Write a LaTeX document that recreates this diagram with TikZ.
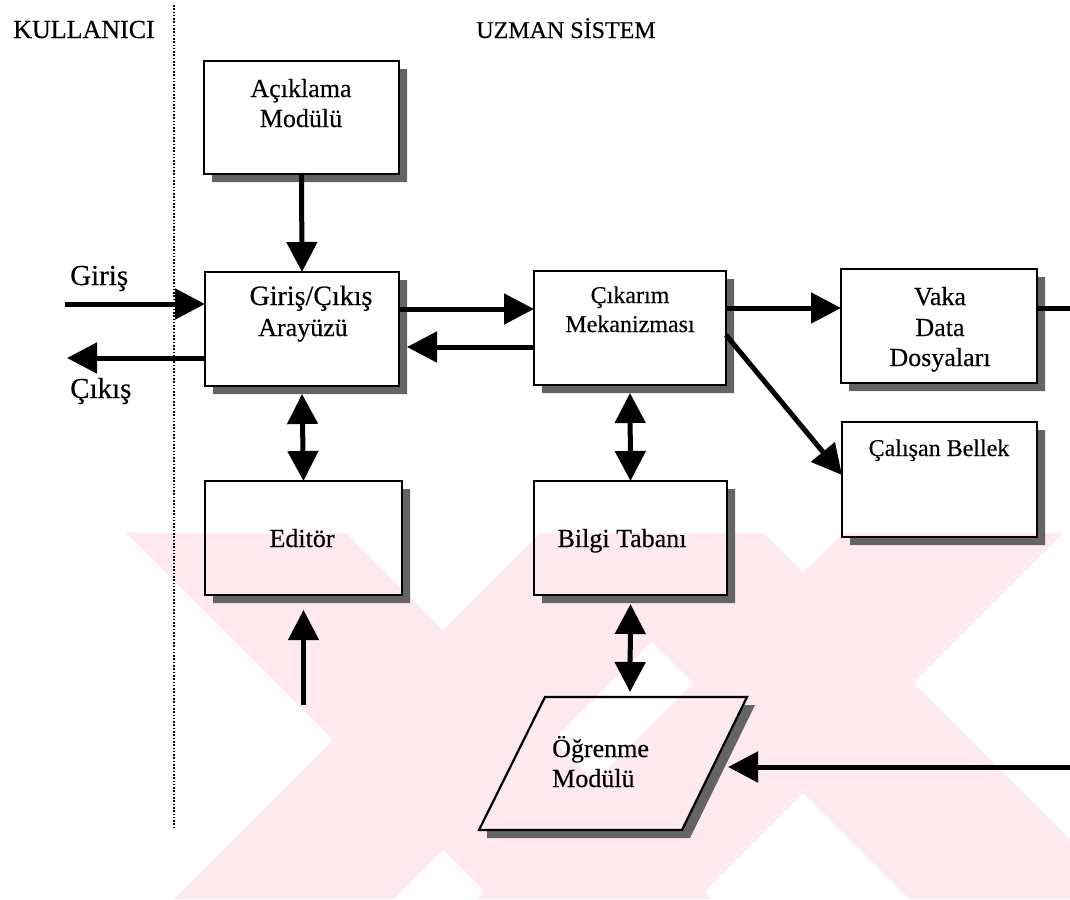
\documentclass[tikz,border=0pt]{standalone}
\usepackage{fontspec}
\setmainfont{Liberation Serif}[FakeBold=0.35]
\usetikzlibrary{arrows.meta,calc}
\definecolor{wmpink}{RGB}{253,233,238}
\definecolor{shadowgray}{RGB}{100,100,100}
\pgfdeclarelayer{paper}
\pgfdeclarelayer{back}
\pgfsetlayers{paper,back,main}
\tikzset{
  box/.style={draw=black, line width=2.8pt, rectangle, inner sep=0pt, outer sep=0pt},
  txt/.style={anchor=base, inner sep=0pt, font=\fontsize{26}{30}\selectfont},
  head/.style={anchor=base, inner sep=0pt, font=\fontsize{26}{30}\selectfont},
  side/.style={anchor=base west, inner sep=0pt, font=\fontsize{29}{34}\selectfont},
  arr/.style={line width=5pt, -{Triangle[width=30pt,length=30pt]}},
  darr/.style={line width=5pt, {Triangle[width=30pt,length=30pt]}-{Triangle[width=30pt,length=30pt]}},
  plainline/.style={line width=5pt},
  sepline/.style={line width=2.2pt, dash pattern=on 1.6pt off 1.7pt},
  emblem/.style={fill=wmpink, draw=none},
}
% L-shaped drop shadow to the lower right of a box node
\newcommand\boxshadow[1]{%
  \fill[shadowgray] ([shift={(0,8)}]#1.north east) -- ([shift={(8,8)}]#1.north east)
    -- ([shift={(8,8)}]#1.south east) -- ([shift={(8,8)}]#1.south west)
    -- ([shift={(8,0)}]#1.south west) -- (#1.south east) -- cycle;}
% one diagonal cross of the emblem: centre x, centre y, half width
\newcommand\emblemcross[3]{%
  \fill[emblem] ({#1+533-#2-#3},533) -- ({#1+533-#2+#3},533)
     -- ({#1+899-#2+#3},899) -- ({#1+899-#2-#3},899) -- cycle;
  \fill[emblem] ({#1-533+#2-#3},533) -- ({#1-533+#2+#3},533)
     -- ({#1-899+#2+#3},899) -- ({#1-899+#2-#3},899) -- cycle;}
\begin{document}
\begin{tikzpicture}[x=1pt,y=-1pt]
\useasboundingbox (0,0) rectangle (1070,899);
\begin{pgfonlayer}{paper}
\fill[white] (0,0) rectangle (1070,899);
\end{pgfonlayer}

% faint emblem in the lower half
\begin{pgfonlayer}{back}
\begin{scope}
\clip (118,533) rectangle (1070,899);
\emblemcross{443}{740}{110}
\emblemcross{803}{683}{110}
\end{scope}
\end{pgfonlayer}

% headings and separator
\node[head] (kullanici) at (84,38) {KULLANICI};
\node[head, font=\fontsize{24}{30}\selectfont] (uzman) at (566,38) {UZMAN SİSTEM};
\coordinate (septop) at (174,5);
\coordinate (sepbot) at (174,828);
\draw[sepline] (septop) -- (sepbot);

% boxes
\node[box, minimum width=195pt, minimum height=113pt] (acik) at (301.5,117.5) {};
\node[box, minimum width=194pt, minimum height=114pt] (gc) at (302,329) {};
\node[box, minimum width=192pt, minimum height=114pt] (cik) at (630,328) {};
\node[box, minimum width=196pt, minimum height=114pt] (vaka) at (939,326) {};
\node[box, minimum width=195pt, minimum height=115pt] (calisan) at (939.5,479.5) {};
\node[box, minimum width=197pt, minimum height=114pt] (editor) at (303.5,538) {};
\node[box, minimum width=193pt, minimum height=114pt] (bilgi) at (630.5,538) {};

\begin{pgfonlayer}{back}
\boxshadow{acik}
\boxshadow{gc}
\boxshadow{cik}
\boxshadow{vaka}
\boxshadow{calisan}
\boxshadow{editor}
\boxshadow{bilgi}
% shadow of the learning module
\fill[shadowgray] (743,705) -- (755,705) -- (690,838) -- (487,838) -- (487,830) -- (682,830) -- cycle;
\end{pgfonlayer}

% learning module (parallelogram)
\coordinate (ogr-tl) at (545,697);
\coordinate (ogr-tr) at (747,697);
\coordinate (ogr-br) at (682,830);
\coordinate (ogr-bl) at (479,830);
\draw[line width=2.2pt, line join=miter] (ogr-tl) -- (ogr-tr) -- (ogr-br) -- (ogr-bl) -- cycle;
\coordinate (ogr-top) at (630,692);
\coordinate (ogr-right) at (728,767);

% box texts
\node[txt] (acik-1) at (301,97) {Açıklama};
\node[txt] (acik-2) at (301,127) {Modülü};
\node[txt, font=\fontsize{28}{30}\selectfont] (gc-1) at (311,305) {Giriş/Çıkış};
\node[txt] (gc-2) at (303,336) {Arayüzü};
\node[txt, font=\fontsize{24}{30}\selectfont] (cik-1) at (630,303) {Çıkarım};
\node[txt, font=\fontsize{24}{30}\selectfont] (cik-2) at (630,332) {Mekanizması};
\node[txt] (vaka-1) at (940,305) {Vaka};
\node[txt] (vaka-2) at (940,336) {Data};
\node[txt] (vaka-3) at (940,366) {Dosyaları};
\node[txt, font=\fontsize{24}{30}\selectfont] (calisan-1) at (939,456) {Çalışan Bellek};
\node[txt] (editor-1) at (302,547) {Editör};
\node[txt] (bilgi-1) at (622,547) {Bilgi Tabanı};
\node[txt, anchor=base west] (ogr-1) at (552,757) {Öğrenme};
\node[txt, anchor=base west] (ogr-2) at (552,787) {Modülü};

% side labels
\node[side] (giris) at (70,285) {Giriş};
\node[side] (cikis) at (70,398) {Çıkış};

% connectors
\coordinate (inp) at (65,304);
\coordinate (outp) at (67,358);
\coordinate (gcs) at ([shift={(8,0)}]gc.east);
\coordinate (rtop) at (1070,308);
\coordinate (rbot) at (1070,767);
\coordinate (edin) at (303.5,705);

\draw[arr] (acik.south) -- (gc.north);
\draw[arr] (inp) -- (inp -| gc.west);
\draw[arr] (gc.west |- outp) -- (outp);
\draw[arr] (gc.east |- 0,309) -- (cik.west |- 0,309);
\draw[arr] (cik.west |- 0,347) -- (gcs |- 0,347);
\draw[darr] ([shift={(0,8)}]gc.south) -- (editor.north);
\draw[darr] ([shift={(0,8)}]cik.south) -- (bilgi.north);
\draw[arr] (cik.east |- 0,308) -- (vaka.west |- 0,308);
\draw[plainline] (vaka.east |- rtop) -- (rtop);
\draw[arr] (cik.east |- 0,335) -- (calisan.west |- 0,475);
\draw[arr, line width=4.5pt] (edin) -- ([shift={(0,15)}]editor.south);
\draw[darr] ([shift={(0,9)}]bilgi.south) -- (ogr-top);
\draw[arr] (rbot) -- (ogr-right);
\end{tikzpicture}
\end{document}
